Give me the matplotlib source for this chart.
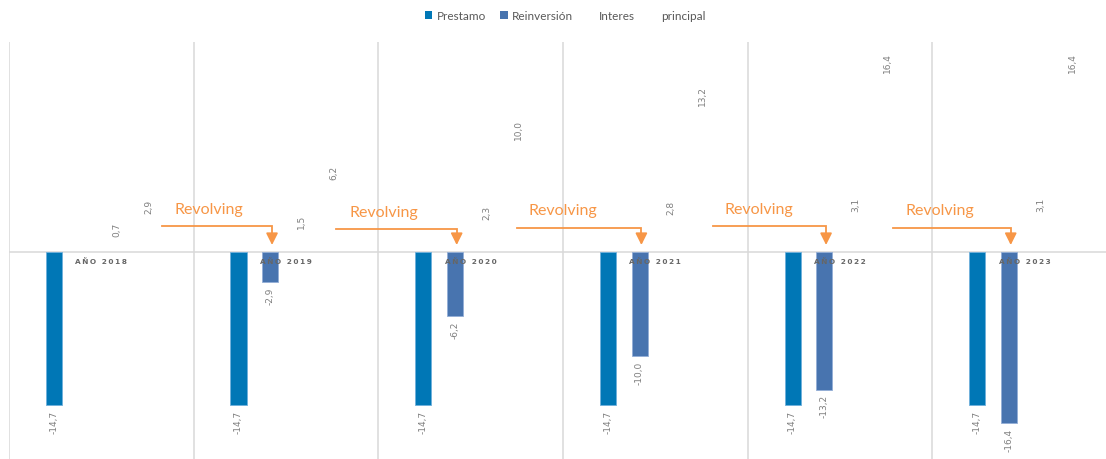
import matplotlib
matplotlib.use("Agg")
import matplotlib.pyplot as plt
from matplotlib.patches import Patch
import numpy as np

# ---- data ----
categories = ["AÑO 2018", "AÑO 2019", "AÑO 2020", "AÑO 2021", "AÑO 2022", "AÑO 2023"]
prestamo = [-14.7, -14.7, -14.7, -14.7, -14.7, -14.7]
reinversion = [np.nan, -2.9, -6.2, -10.0, -13.2, -16.4]
interes = [0.7, 1.5, 2.3, 2.8, 3.1, 3.1]
principal = [2.9, 6.2, 10.0, 13.2, 16.4, 16.4]
series_names = ["Prestamo", "Reinversión", "Interes", "principal"]
annot_text = "Revolving"

# ---- style ----
c_prestamo = "#0077B6"
c_reinv = "#4874AF"
c_text = "#595959"
c_label = "#7F7F7F"
c_grid = "#D9D9D9"
c_orange = "#F79646"

W, H = 1106, 459
fig = plt.figure(figsize=(W / 100, H / 100), dpi=100)
ax = fig.add_axes([9 / W, 1 - 461 / H, (W - 9) / W, (461 - 42) / H])

x = np.arange(len(categories))
slot = 0.1715
bw = 0.087
offsets = [-1.5 * slot, -0.5 * slot, 0.5 * slot, 1.5 * slot]

ax.bar(x + offsets[0], prestamo, width=bw, color=c_prestamo,
       edgecolor="#6FB0DC", linewidth=0.6, zorder=2)
ax.bar(x + offsets[1], reinversion, width=bw, color=c_reinv,
       edgecolor="#93AED6", linewidth=0.6, zorder=2)
# Interes and principal are transparent columns: only their labels show
ax.bar(x + offsets[2], interes, width=bw, color="none", zorder=2)
ax.bar(x + offsets[3], principal, width=bw, color="none", zorder=2)


def fmt(v):
    return f"{v:.1f}".replace(".", ",")


def label_series(vals, off):
    for xi, v in zip(x, vals):
        if np.isnan(v):
            continue
        pos = v >= 0
        ax.annotate(fmt(v), (xi + off, v), xytext=(0, 5 if pos else -4),
                    textcoords="offset points", rotation=90,
                    ha="center", va="bottom" if pos else "top",
                    fontsize=6.5, color=c_label, family="DejaVu Sans", zorder=4)


for vals, off in zip([prestamo, reinversion, interes, principal], offsets):
    label_series(vals, off)


def spaced(s):
    # widen the tracking of the category captions
    return "\u2009".join(s).replace("\u2009 \u2009", "\u2009\u2009 ")


# category names sit just under the zero line
for xi, name in zip(x, categories):
    ax.annotate(spaced(name), (xi, 0), xytext=(0, -5), textcoords="offset points",
                ha="center", va="top", fontsize=5.3, fontweight="bold",
                color="#666666", family="DejaVu Sans", zorder=5)

# grid: category boundaries and the zero line
for b in np.arange(-0.5, len(categories), 1.0):
    ax.axvline(b, color=c_grid, lw=1.1, zorder=0)
ax.axhline(0, color=c_grid, lw=1.1, zorder=1)

ax.set_xlim(-0.5, 5.44)
ax.set_ylim(-20, 20)
ax.set_xticks([])
ax.set_yticks([])
for s in ax.spines.values():
    s.set_visible(False)

# "Revolving" callouts: elbow arrows pointing at next year's reinvestment
starts = [0.33, 1.27, 2.25, 3.31, 4.285]
text_x = [0.58, 1.53, 2.50, 3.56, 4.54]
line_y = [2.48, 2.19, 2.29, 2.48, 2.29]
text_y = [4.0, 3.72, 3.82, 4.0, 3.82]
for i in range(5):
    tx = x[i + 1] + offsets[1] + 0.01
    ax.plot([starts[i], tx, tx], [line_y[i], line_y[i], 1.35],
            color=c_orange, lw=1.3, zorder=3, solid_joinstyle="miter")
    ax.annotate("", xy=(tx, 0.62), xytext=(tx, 1.45),
                arrowprops=dict(arrowstyle="-|>,head_length=0.7,head_width=0.35",
                                color=c_orange, lw=1.3, shrinkA=0, shrinkB=0),
                zorder=3)
    ax.text(text_x[i], text_y[i], annot_text, ha="center", va="center",
            fontsize=11.5, color=c_orange, family="Lato", zorder=4)

# legend
handles = [Patch(facecolor=c_prestamo, edgecolor="none"),
           Patch(facecolor=c_reinv, edgecolor="none"),
           Patch(facecolor="none", edgecolor="none"),
           Patch(facecolor="none", edgecolor="none")]
fig.legend(handles, series_names, loc="center", bbox_to_anchor=(565 / W, 1 - 16 / H),
           ncol=4, frameon=False, labelcolor=c_text,
           handlelength=0.65, handleheight=0.65, handletextpad=0.35,
           columnspacing=1.2, prop={"family": "Lato", "size": 8.5})

fig.savefig("out.png", dpi=100)
